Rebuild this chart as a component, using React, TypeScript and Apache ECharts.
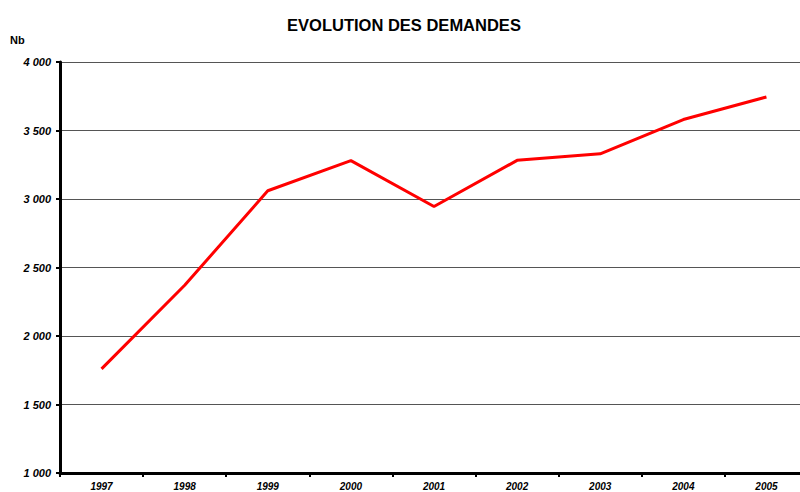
import React, { useEffect, useRef } from "react";
import * as echarts from "echarts";

const years = ["1997", "1998", "1999", "2000", "2001", "2002", "2003", "2004", "2005"];
const demandes = [1760, 2370, 3060, 3280, 2945, 3282, 3330, 3580, 3745];

export default function App() {
  const ref = useRef<HTMLDivElement>(null);
  useEffect(() => {
    const chart = echarts.init(ref.current!, null, { renderer: "svg" });
    chart.setOption({
      animation: false,
      backgroundColor: "#fff",
      title: {
        text: "EVOLUTION DES DEMANDES",
        left: "center",
        top: 11,
        textStyle: { fontFamily: "Liberation Sans", fontSize: 16.5, fontWeight: "bold", color: "#000" },
      },
      graphic: [
        {
          type: "text",
          left: 10,
          top: 34,
          style: { text: "Nb", fontFamily: "Liberation Sans", fontSize: 11, fontWeight: "bold", fill: "#000" },
        },
      ],
      grid: { left: 60, right: 0, top: 62, bottom: 19, containLabel: false },
      xAxis: {
        type: "category",
        data: years,
        boundaryGap: true,
        axisLine: { lineStyle: { color: "#000", width: 3 } },
        axisTick: { show: true, length: 4, lineStyle: { color: "#000", width: 2 } },
        axisLabel: {
          fontFamily: "Liberation Sans",
          fontSize: 10,
          fontWeight: "bold",
          fontStyle: "italic",
          color: "#000",
          margin: 8,
        },
      },
      yAxis: {
        type: "value",
        min: 1000,
        max: 4000,
        interval: 500,
        axisLine: { show: true, lineStyle: { color: "#000", width: 3 } },
        axisTick: { show: true, length: 4, lineStyle: { color: "#000", width: 2 } },
        splitLine: { show: true, lineStyle: { color: "#555", width: 1 } },
        axisLabel: {
          fontFamily: "Liberation Sans",
          fontSize: 11,
          fontWeight: "bold",
          fontStyle: "italic",
          color: "#000",
          margin: 9,
          formatter: (v: number) => {
            const s = String(v);
            return s.length > 3 ? s.slice(0, s.length - 3) + " " + s.slice(-3) : s;
          },
        },
      },
      series: [
        {
          type: "line",
          data: demandes,
          symbol: "none",
          lineStyle: { color: "#ff0000", width: 3 },
          itemStyle: { color: "#ff0000" },
        },
      ],
    });
    return () => chart.dispose();
  }, []);
  return (
    <div style={{ position: "absolute", left: 0, top: 0, width: 800, height: 492, overflow: "hidden" }}>
      <div ref={ref} style={{ width: 808, height: 492 }} />
    </div>
  );
}
